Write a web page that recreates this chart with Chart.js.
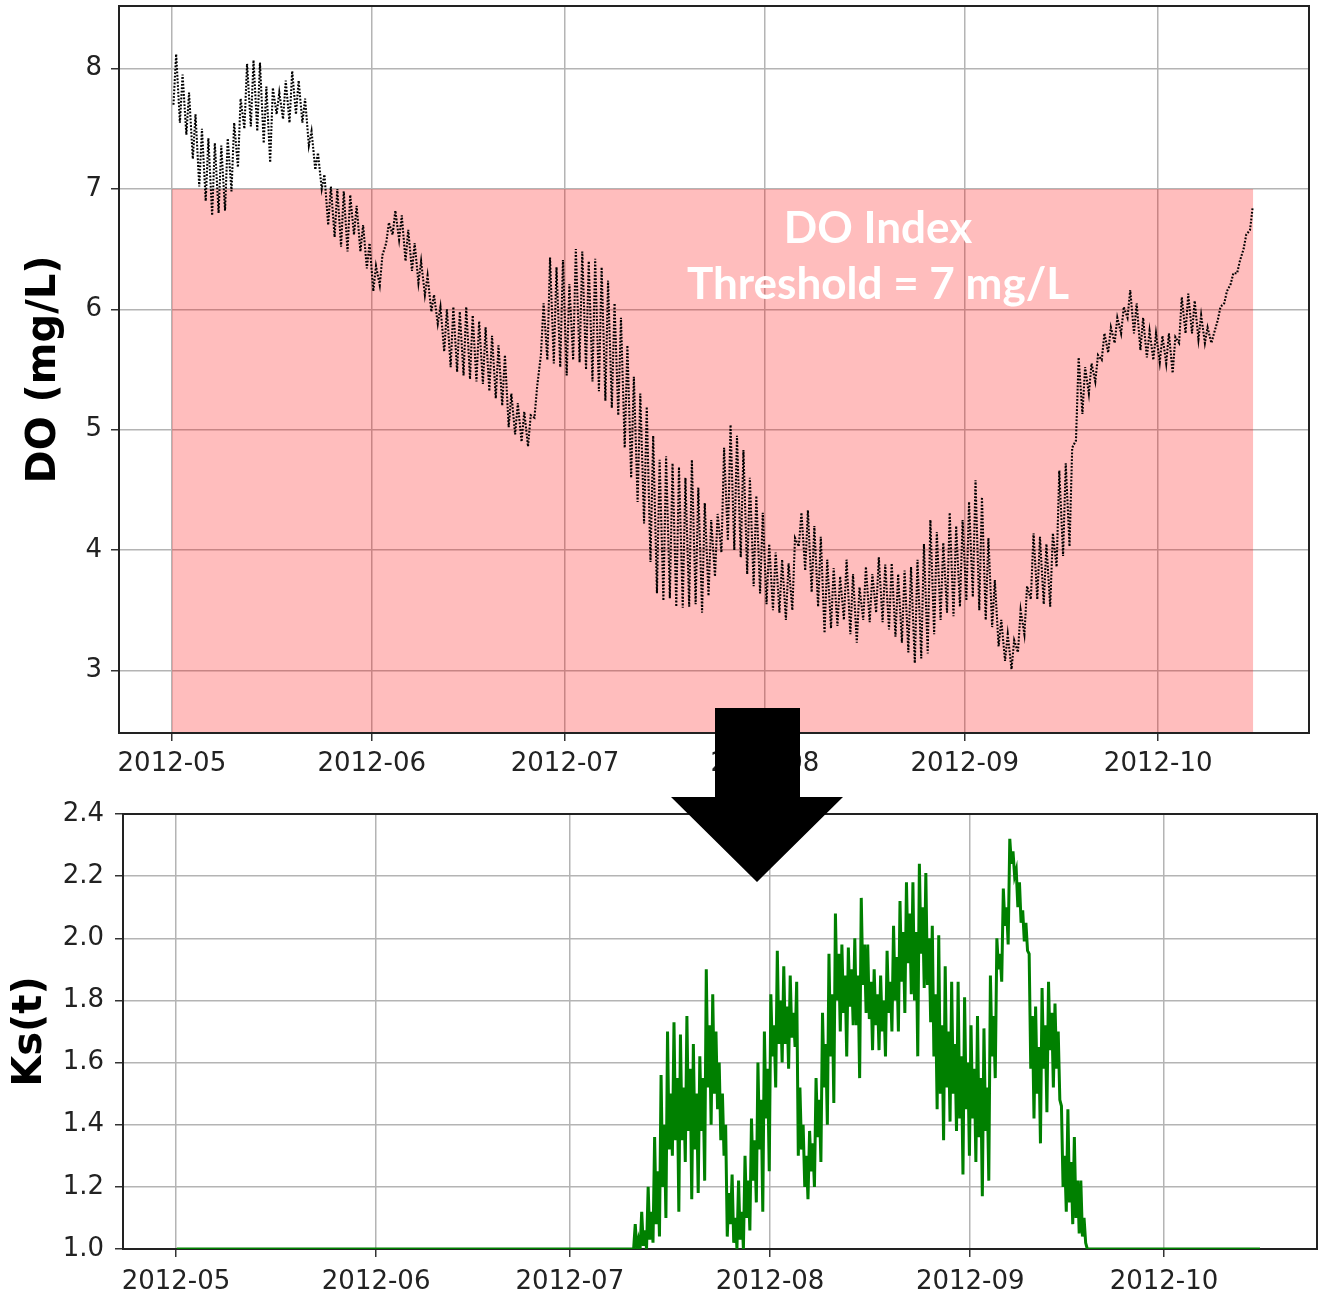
<!DOCTYPE html>
<html>
<head>
<meta charset="utf-8">
<script src="https://cdn.jsdelivr.net/npm/chart.js@4.4.1/dist/chart.umd.min.js"></script>
<style>
  html, body { margin: 0; padding: 0; background: #ffffff; }
  #wrap { position: relative; width: 1319px; height: 1294px; overflow: hidden; }
  #doChart { position: absolute; left: 0; top: 0; }
  #ksChart { position: absolute; left: 0; top: 790px; }
  #arrow { position: absolute; left: 0; top: 0; pointer-events: none; }
</style>
</head>
<body>
<div id="wrap">
  <canvas id="doChart" width="1319" height="790"></canvas>
  <canvas id="ksChart" width="1319" height="504"></canvas>
  <svg id="arrow" width="1319" height="1294">
    <polygon points="715,708 800,708 800,797 843,797 757,882 671,797 715,797" fill="#000000"/>
  </svg>
</div>
<script>
// ---- series, one set of daily readings per day starting 2012-05-01 ----
const startDate = '2012-05-01';
const monthTicks = ['2012-05', '2012-06', '2012-07', '2012-08', '2012-09', '2012-10'];
const doTicks = [3, 4, 5, 6, 7, 8];
const ksTicks = [1.0, 1.2, 1.4, 1.6, 1.8, 2.0, 2.2, 2.4];
const doThreshold = 7;

// dissolved oxygen, mg/L: daily maximum and daily minimum
const doHigh = [
  8.12, 7.95, 7.80, 7.62, 7.50, 7.42, 7.38, 7.36, 7.42, 7.55,
  7.75, 8.04, 8.07, 8.05, 7.85, 7.84, 7.80, 7.90, 7.98, 7.90,
  7.75, 7.48, 7.30, 7.12, 7.02, 7.00, 6.98, 6.95, 6.86, 6.70,
  6.55, 6.36, 6.45, 6.72, 6.82, 6.78, 6.66, 6.55, 6.40, 6.28,
  6.12, 6.02, 6.00, 6.02, 5.98, 6.02, 5.95, 5.90, 5.85, 5.78,
  5.70, 5.62, 5.30, 5.22, 5.15, 5.12, 5.36, 6.05, 6.43, 6.35,
  6.41, 6.21, 6.50, 6.48, 6.40, 6.42, 6.35, 6.24, 6.05, 5.93,
  5.70, 5.44, 5.30, 5.19, 4.95, 4.75, 4.78, 4.72, 4.69, 4.60,
  4.75, 4.52, 4.39, 4.25, 4.30, 4.85, 5.04, 4.95, 4.83, 4.60,
  4.45, 4.31, 4.05, 3.98, 3.92, 3.89, 4.10, 4.31, 4.33, 4.20,
  4.11, 3.92, 3.85, 3.78, 3.92, 3.80, 3.69, 3.86, 3.80, 3.94,
  3.88, 3.89, 3.80, 3.83, 3.86, 3.92, 4.05, 4.25, 4.15, 4.06,
  4.31, 4.20, 4.25, 4.40, 4.58, 4.44, 4.10, 3.75, 3.42, 3.30,
  3.25, 3.50, 3.70, 4.14, 4.11, 4.05, 4.14, 4.66, 4.72, 4.85,
  5.60, 5.52, 5.55, 5.62, 5.80, 5.85, 5.93, 6.02, 6.16, 6.05,
  5.93, 5.82, 5.80, 5.78, 5.80, 5.77, 6.10, 6.13, 6.07, 5.95,
  5.85, 5.80, 6.02, 6.15, 6.30, 6.40, 6.62, 6.85
];
const doLow = [
  7.70, 7.55, 7.45, 7.25, 7.02, 6.90, 6.78, 6.80, 6.82, 6.98,
  7.18, 7.50, 7.52, 7.48, 7.38, 7.22, 7.62, 7.58, 7.55, 7.62,
  7.55, 7.36, 7.16, 7.00, 6.70, 6.60, 6.52, 6.48, 6.62, 6.48,
  6.34, 6.15, 6.20, 6.55, 6.62, 6.58, 6.40, 6.32, 6.22, 6.12,
  5.98, 5.88, 5.65, 5.52, 5.48, 5.45, 5.42, 5.40, 5.38, 5.32,
  5.26, 5.20, 5.02, 4.96, 4.90, 4.86, 5.10, 5.62, 5.58, 5.55,
  5.52, 5.45, 5.58, 5.56, 5.50, 5.40, 5.32, 5.24, 5.18, 5.12,
  4.85, 4.60, 4.40, 4.22, 3.90, 3.64, 3.58, 3.60, 3.53, 3.52,
  3.53, 3.55, 3.48, 3.62, 3.78, 3.98, 4.08, 4.00, 3.94, 3.80,
  3.70, 3.64, 3.55, 3.50, 3.48, 3.42, 3.50, 4.03, 3.83, 3.65,
  3.53, 3.31, 3.35, 3.37, 3.42, 3.30, 3.23, 3.42, 3.40, 3.48,
  3.40, 3.34, 3.28, 3.23, 3.15, 3.06, 3.10, 3.14, 3.30, 3.42,
  3.48, 3.45, 3.53, 3.58, 3.61, 3.50, 3.42, 3.36, 3.20, 3.08,
  3.01, 3.15, 3.30, 3.59, 3.59, 3.55, 3.53, 3.86, 3.95, 4.03,
  4.91, 5.13, 5.30, 5.40, 5.58, 5.64, 5.72, 5.80, 5.93, 5.80,
  5.66, 5.60, 5.58, 5.56, 5.55, 5.47, 5.72, 5.80, 5.80, 5.75,
  5.72, 5.72, 5.91, 6.05, 6.21, 6.30, 6.50, 6.66
];

// stress coefficient Ks(t): daily peak, daily trough, and the bounds of the
// band where most of the day's readings sit
const ksHigh = [
  1.00, 1.00, 1.00, 1.00, 1.00, 1.00, 1.00, 1.00, 1.00, 1.00,
  1.00, 1.00, 1.00, 1.00, 1.00, 1.00, 1.00, 1.00, 1.00, 1.00,
  1.00, 1.00, 1.00, 1.00, 1.00, 1.00, 1.00, 1.00, 1.00, 1.00,
  1.00, 1.00, 1.00, 1.00, 1.00, 1.00, 1.00, 1.00, 1.00, 1.00,
  1.00, 1.00, 1.00, 1.00, 1.00, 1.00, 1.00, 1.00, 1.00, 1.00,
  1.00, 1.00, 1.00, 1.00, 1.00, 1.00, 1.00, 1.00, 1.00, 1.00,
  1.00, 1.00, 1.00, 1.00, 1.00, 1.00, 1.00, 1.00, 1.00, 1.00,
  1.00, 1.08, 1.12, 1.20, 1.36, 1.56, 1.70, 1.73, 1.69, 1.75,
  1.66, 1.62, 1.90, 1.82, 1.60, 1.40, 1.24, 1.22, 1.30, 1.42,
  1.60, 1.70, 1.82, 1.96, 1.91, 1.88, 1.86, 1.40, 1.38, 1.55,
  1.76, 1.95, 2.08, 1.98, 1.97, 2.00, 2.13, 1.98, 1.90, 1.88,
  1.96, 2.04, 2.12, 2.18, 2.18, 2.24, 2.21, 2.04, 2.01, 1.91,
  1.86, 1.86, 1.81, 1.72, 1.75, 1.71, 1.88, 2.00, 2.16, 2.32,
  2.22, 2.09, 1.95, 1.78, 1.84, 1.86, 1.79, 1.46, 1.45, 1.36,
  1.22, 1.00, 1.00, 1.00, 1.00, 1.00, 1.00, 1.00, 1.00, 1.00,
  1.00, 1.00, 1.00, 1.00, 1.00, 1.00, 1.00, 1.00, 1.00, 1.00,
  1.00, 1.00, 1.00, 1.00, 1.00, 1.00, 1.00, 1.00
];
const ksLow = [
  1.00, 1.00, 1.00, 1.00, 1.00, 1.00, 1.00, 1.00, 1.00, 1.00,
  1.00, 1.00, 1.00, 1.00, 1.00, 1.00, 1.00, 1.00, 1.00, 1.00,
  1.00, 1.00, 1.00, 1.00, 1.00, 1.00, 1.00, 1.00, 1.00, 1.00,
  1.00, 1.00, 1.00, 1.00, 1.00, 1.00, 1.00, 1.00, 1.00, 1.00,
  1.00, 1.00, 1.00, 1.00, 1.00, 1.00, 1.00, 1.00, 1.00, 1.00,
  1.00, 1.00, 1.00, 1.00, 1.00, 1.00, 1.00, 1.00, 1.00, 1.00,
  1.00, 1.00, 1.00, 1.00, 1.00, 1.00, 1.00, 1.00, 1.00, 1.00,
  1.00, 1.00, 1.00, 1.02, 1.04, 1.10, 1.30, 1.12, 1.28, 1.16,
  1.18, 1.22, 1.40, 1.45, 1.30, 1.08, 1.00, 1.00, 1.06, 1.15,
  1.12, 1.25, 1.52, 1.60, 1.58, 1.65, 1.32, 1.16, 1.20, 1.28,
  1.40, 1.47, 1.70, 1.62, 1.72, 1.55, 1.76, 1.64, 1.64, 1.62,
  1.70, 1.70, 1.76, 1.82, 1.62, 1.84, 1.73, 1.45, 1.35, 1.41,
  1.38, 1.24, 1.30, 1.28, 1.17, 1.22, 1.55, 1.86, 1.98, 2.20,
  2.05, 1.96, 1.42, 1.34, 1.44, 1.52, 1.48, 1.12, 1.08, 1.05,
  1.02, 1.00, 1.00, 1.00, 1.00, 1.00, 1.00, 1.00, 1.00, 1.00,
  1.00, 1.00, 1.00, 1.00, 1.00, 1.00, 1.00, 1.00, 1.00, 1.00,
  1.00, 1.00, 1.00, 1.00, 1.00, 1.00, 1.00, 1.00
];
const ksBandHigh = [
  1.00, 1.00, 1.00, 1.00, 1.00, 1.00, 1.00, 1.00, 1.00, 1.00,
  1.00, 1.00, 1.00, 1.00, 1.00, 1.00, 1.00, 1.00, 1.00, 1.00,
  1.00, 1.00, 1.00, 1.00, 1.00, 1.00, 1.00, 1.00, 1.00, 1.00,
  1.00, 1.00, 1.00, 1.00, 1.00, 1.00, 1.00, 1.00, 1.00, 1.00,
  1.00, 1.00, 1.00, 1.00, 1.00, 1.00, 1.00, 1.00, 1.00, 1.00,
  1.00, 1.00, 1.00, 1.00, 1.00, 1.00, 1.00, 1.00, 1.00, 1.00,
  1.00, 1.00, 1.00, 1.00, 1.00, 1.00, 1.00, 1.00, 1.00, 1.00,
  1.00, 1.03, 1.06, 1.12, 1.25, 1.40, 1.50, 1.55, 1.52, 1.58,
  1.50, 1.55, 1.72, 1.70, 1.50, 1.18, 1.10, 1.12, 1.22, 1.35,
  1.48, 1.58, 1.72, 1.80, 1.78, 1.76, 1.52, 1.30, 1.34, 1.48,
  1.66, 1.82, 1.95, 1.88, 1.90, 1.88, 1.98, 1.86, 1.82, 1.80,
  1.86, 1.94, 2.02, 2.08, 2.02, 2.10, 2.00, 1.82, 1.72, 1.70,
  1.66, 1.62, 1.60, 1.58, 1.55, 1.52, 1.75, 1.95, 2.10, 2.28,
  2.18, 2.05, 1.75, 1.65, 1.72, 1.76, 1.70, 1.30, 1.28, 1.22,
  1.10, 1.00, 1.00, 1.00, 1.00, 1.00, 1.00, 1.00, 1.00, 1.00,
  1.00, 1.00, 1.00, 1.00, 1.00, 1.00, 1.00, 1.00, 1.00, 1.00,
  1.00, 1.00, 1.00, 1.00, 1.00, 1.00, 1.00, 1.00
];
const ksBandLow = [
  1.00, 1.00, 1.00, 1.00, 1.00, 1.00, 1.00, 1.00, 1.00, 1.00,
  1.00, 1.00, 1.00, 1.00, 1.00, 1.00, 1.00, 1.00, 1.00, 1.00,
  1.00, 1.00, 1.00, 1.00, 1.00, 1.00, 1.00, 1.00, 1.00, 1.00,
  1.00, 1.00, 1.00, 1.00, 1.00, 1.00, 1.00, 1.00, 1.00, 1.00,
  1.00, 1.00, 1.00, 1.00, 1.00, 1.00, 1.00, 1.00, 1.00, 1.00,
  1.00, 1.00, 1.00, 1.00, 1.00, 1.00, 1.00, 1.00, 1.00, 1.00,
  1.00, 1.00, 1.00, 1.00, 1.00, 1.00, 1.00, 1.00, 1.00, 1.00,
  1.00, 1.00, 1.01, 1.03, 1.08, 1.20, 1.32, 1.35, 1.35, 1.38,
  1.32, 1.38, 1.52, 1.50, 1.35, 1.04, 1.02, 1.03, 1.10, 1.22,
  1.32, 1.42, 1.62, 1.66, 1.66, 1.68, 1.30, 1.20, 1.25, 1.36,
  1.52, 1.62, 1.80, 1.76, 1.78, 1.72, 1.85, 1.74, 1.72, 1.70,
  1.76, 1.80, 1.86, 1.92, 1.80, 1.95, 1.85, 1.62, 1.50, 1.52,
  1.50, 1.42, 1.45, 1.42, 1.36, 1.38, 1.62, 1.90, 2.04, 2.24,
  2.10, 1.99, 1.58, 1.50, 1.58, 1.64, 1.58, 1.20, 1.15, 1.10,
  1.04, 1.00, 1.00, 1.00, 1.00, 1.00, 1.00, 1.00, 1.00, 1.00,
  1.00, 1.00, 1.00, 1.00, 1.00, 1.00, 1.00, 1.00, 1.00, 1.00,
  1.00, 1.00, 1.00, 1.00, 1.00, 1.00, 1.00, 1.00
];

// ---- helpers ----
const DAY_MS = 86400000;
function parseYmd(s) {
  const p = s.split('-').map(Number);
  return Date.UTC(p[0], p[1] - 1, p[2] || 1);
}
const origin = parseYmd(startDate);
const dayOffset = s => (parseYmd(s) - origin) / DAY_MS;
const monthDays = monthTicks.map(dayOffset);

// place each day's readings at their hours and return a time-ordered series
// (x in days since startDate)
function dailySeries(readings) {
  const pts = [];
  const n = readings[0].values.length;
  for (let d = 0; d < n; d++) {
    readings.forEach(r => pts.push({ x: d + r.hour / 24, y: r.values[d] }));
  }
  return pts;
}
const doPoints = dailySeries([
  { hour: 6, values: doLow },
  { hour: 16, values: doHigh }
]);
const ksPoints = dailySeries([
  { hour: 3, values: ksHigh },
  { hour: 9, values: ksBandLow },
  { hour: 15, values: ksBandHigh },
  { hour: 21, values: ksLow }
]);
const seriesEnd = doPoints[doPoints.length - 1].x + 1 / 12;
const thresholdBand = [{ x: 0, y: doThreshold }, { x: seriesEnd, y: doThreshold }];

// ---- shared styling ----
const tickFont = { family: '"DejaVu Sans", sans-serif', size: 26 };
const titleFont = { family: '"DejaVu Sans", sans-serif', size: 40, weight: 'bold' };
const gridStyle = { color: '#b4b4b4', lineWidth: 1.5, tickLength: 8, tickColor: '#333333', tickWidth: 1.5 };

function monthAxis(min, max, height, pad) {
  return {
    type: 'linear', min, max,
    afterBuildTicks: s => { s.ticks = monthDays.map(v => ({ value: v })); },
    afterFit: s => { s.height = height; s.paddingLeft = 0; s.paddingRight = 0; },
    ticks: { callback: (v, i) => monthTicks[i], font: tickFont, color: '#222222',
             maxRotation: 0, minRotation: 0, autoSkip: false, padding: pad },
    grid: gridStyle,
    border: { display: false }
  };
}
function valueAxis(min, max, values, fmt, width, pad, title, titlePad) {
  return {
    type: 'linear', min, max,
    afterBuildTicks: s => { s.ticks = values.map(v => ({ value: v })); },
    afterFit: s => { s.width = width; s.paddingTop = 0; s.paddingBottom = 0; },
    ticks: { callback: fmt, font: tickFont, color: '#222222', padding: pad },
    grid: gridStyle,
    border: { display: false },
    title: { display: true, text: title, font: titleFont, color: '#000000',
             padding: { top: titlePad, bottom: 0 } }
  };
}
function framePlugin(hook) {
  return {
    id: 'frame',
    [hook](chart) {
      const { ctx, chartArea: a } = chart;
      ctx.save();
      ctx.strokeStyle = '#222222';
      ctx.lineWidth = 2;
      ctx.strokeRect(a.left, a.top, a.right - a.left, a.bottom - a.top);
      ctx.restore();
    }
  };
}
const thresholdText = {
  id: 'thresholdText',
  afterDatasetsDraw(chart) {
    const ctx = chart.ctx;
    ctx.save();
    ctx.fillStyle = '#ffffff';
    ctx.font = 'bold 44px Lato, "Open Sans", sans-serif';
    ctx.textAlign = 'center';
    ctx.textBaseline = 'alphabetic';
    ctx.fillText('DO Index', 878, 243);
    ctx.fillText('Threshold = ' + doThreshold + ' mg/L', 878, 299);
    ctx.restore();
  }
};
const common = {
  responsive: false,
  animation: false,
  devicePixelRatio: 1,
  events: [],
  plugins: { legend: { display: false }, tooltip: { enabled: false } },
  elements: { point: { radius: 0 }, line: { tension: 0 } }
};

// ---- DO chart ----
new Chart(document.getElementById('doChart'), {
  type: 'line',
  data: {
    datasets: [
      { label: 'DO', data: doPoints, borderColor: '#000000', borderWidth: 2.1,
        borderDash: [1.8, 1.6], fill: false, order: 0 },
      { label: 'DO Index threshold', data: thresholdBand, borderWidth: 0,
        borderColor: 'rgba(0,0,0,0)', backgroundColor: 'rgba(255,0,0,0.26)',
        fill: 'start', order: 1 }
    ]
  },
  options: Object.assign({}, common, {
    layout: { autoPadding: false, padding: { top: 6, right: 10, left: 0, bottom: 0 } },
    scales: {
      x: monthAxis(-8.2, 176.4, 57, 8),
      y: valueAxis(2.48, 8.52, doTicks, v => String(v), 119, 9, 'DO (mg/L)', 21)
    }
  }),
  plugins: [framePlugin('afterDatasetsDraw'), thresholdText]
});

// ---- Ks chart ----
new Chart(document.getElementById('ksChart'), {
  type: 'line',
  data: {
    datasets: [
      { label: 'Ks(t)', data: ksPoints, borderColor: '#008000', borderWidth: 3, fill: false }
    ]
  },
  options: Object.assign({}, common, {
    layout: { autoPadding: false, padding: { top: 24, right: 2, left: 0, bottom: 0 } },
    scales: {
      x: monthAxis(-8.2, 176.7, 45, 10),
      y: valueAxis(1.0, 2.4, ksTicks, v => Number(v).toFixed(1), 123, 11, 'Ks(t)', 7)
    }
  }),
  plugins: [framePlugin('beforeDatasetsDraw')]
});
</script>
</body>
</html>
